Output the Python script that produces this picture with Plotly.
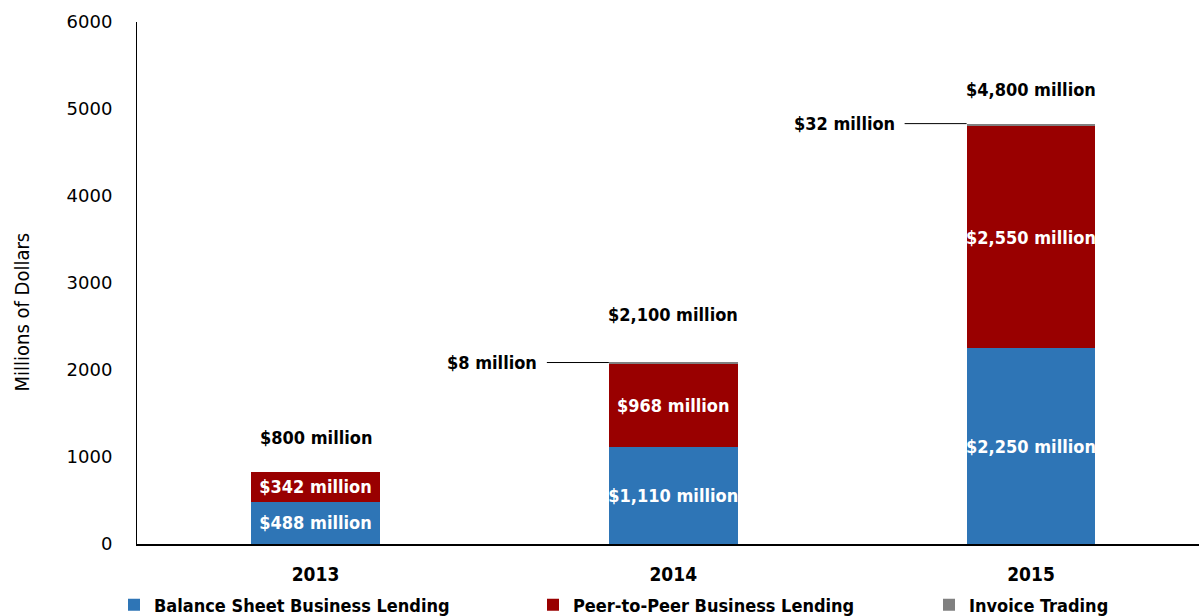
import plotly.graph_objects as go

years = ["2013", "2014", "2015"]
balance_sheet = [488, 1110, 2250]
peer_to_peer = [342, 968, 2550]
invoice = [0, 8, 32]
total_labels = ["$800 million", "$2,100 million", "$4,800 million"]
invoice_labels = ["", "$8 million", "$32 million"]
y_ticks = [0, 1000, 2000, 3000, 4000, 5000, 6000]

FONT = "DejaVu Sans Condensed, Roboto, sans-serif"
BLUE = "#2E75B6"
RED = "#990000"
GRAY = "#808080"

xs = list(range(len(years)))
BW = 0.36

def fmt(v):
    return "${:,} million".format(v)

lab_font = dict(family=FONT, size=18, color="white", weight="bold")

fig = go.Figure()
fig.add_trace(go.Bar(
    x=xs, y=balance_sheet, name="Balance Sheet Business Lending",
    marker=dict(color=BLUE, line=dict(width=0)), width=BW,
    text=[fmt(v) for v in balance_sheet], textposition="inside", textangle=0,
    insidetextanchor="middle", constraintext="none", textfont=lab_font,
    legend="legend",
))
fig.add_trace(go.Bar(
    x=xs, y=peer_to_peer, name="Peer-to-Peer Business Lending",
    marker=dict(color=RED, line=dict(width=0)), width=BW,
    text=[fmt(v) for v in peer_to_peer], textposition="inside", textangle=0,
    insidetextanchor="middle", constraintext="none", textfont=lab_font,
    legend="legend2",
))
fig.add_trace(go.Bar(
    x=xs, y=invoice, name="Invoice Trading",
    marker=dict(color=GRAY, line=dict(width=0)), width=BW,
    textposition="none", legend="legend3",
))

totals = [a + b + c for a, b, c in zip(balance_sheet, peer_to_peer, invoice)]
shifts = [34, 48, 34]
for i, t in enumerate(totals):
    fig.add_annotation(x=xs[i], y=t, text=total_labels[i], showarrow=False,
                       yshift=shifts[i], yanchor="middle",
                       font=dict(family=FONT, size=18, color="black", weight="bold"))
    if invoice_labels[i]:
        x1 = xs[i] - BW / 2
        x0 = x1 - 62 / 357.75
        fig.add_shape(type="line", x0=x0, x1=x1, y0=t, y1=t, xref="x", yref="y",
                      line=dict(color="black", width=1))
        fig.add_annotation(x=x0, y=t, text=invoice_labels[i], showarrow=False,
                           xanchor="right", yanchor="middle", xshift=-8,
                           font=dict(family=FONT, size=18, color="black", weight="bold"))

# y-axis title
fig.add_annotation(xref="paper", yref="paper", x=-0.108, y=0.444,
                   text="Millions of Dollars", textangle=-90, showarrow=False,
                   xanchor="center", yanchor="middle",
                   font=dict(family=FONT, size=20, color="black"))

leg_common = dict(orientation="h", xanchor="left", xref="container",
                  yref="paper", y=-0.117, yanchor="middle",
                  font=dict(family=FONT, size=18, color="black", weight="bold"),
                  bgcolor="rgba(0,0,0,0)")

fig.update_layout(
    barmode="stack",
    width=1199, height=616,
    margin=dict(l=137, r=0, t=22, b=72, autoexpand=False),
    plot_bgcolor="white", paper_bgcolor="white",
    showlegend=True,
    legend=dict(x=114 / 1199, **leg_common),
    legend2=dict(x=533 / 1199, **leg_common),
    legend3=dict(x=929 / 1199, **leg_common),
    xaxis=dict(range=[-0.499, 2.4696], tickvals=xs, ticktext=years,
               showline=True, linecolor="black", linewidth=1.5, ticks="",
               showgrid=False, zeroline=False,
               tickfont=dict(family=FONT, size=19, color="black", weight="bold"),
               ticklabelstandoff=12),
    yaxis=dict(range=[0, 6000], tickvals=y_ticks, showline=True, linecolor="black",
               linewidth=1, ticks="", showgrid=False, zeroline=False,
               tickfont=dict(family="DejaVu Sans", size=18, color="black"),
               ticklabelstandoff=20),
)

fig.write_html("out.html", config={"displayModeBar": False},
               post_script="document.body.style.margin='0px';")
